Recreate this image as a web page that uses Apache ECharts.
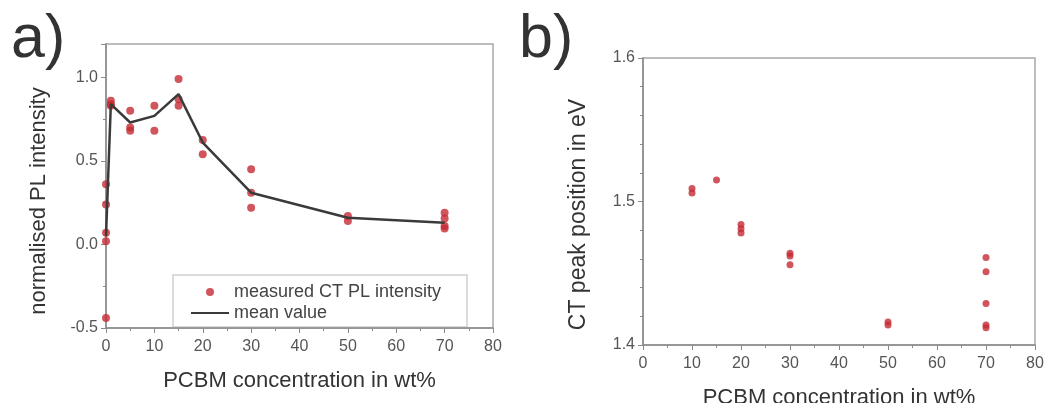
<!DOCTYPE html>
<html>
<head>
<meta charset="utf-8">
<script src="https://cdn.jsdelivr.net/npm/echarts@6/dist/echarts.min.js"></script>
<style>
  html, body { margin: 0; padding: 0; background: #fff; }
  #chart { width: 1046px; height: 403px; }
</style>
</head>
<body>
<div id="chart"></div>
<script>
// a) CT photoluminescence intensity versus PCBM content
const plConc   = [0, 0, 0, 0, 0, 1, 1, 1, 5, 5, 5, 10, 10, 15, 15, 15, 20, 20, 30, 30, 30, 50, 50, 70, 70, 70, 70];
const plValues = [0.36, 0.24, 0.07, 0.02, -0.44, 0.86, 0.84, 0.83, 0.80, 0.70, 0.68, 0.83, 0.68, 0.99, 0.87, 0.83, 0.625, 0.54, 0.45, 0.31, 0.22, 0.17, 0.14, 0.19, 0.155, 0.11, 0.095];
const meanConc   = [0, 1, 5, 10, 15, 20, 30, 50, 70];
const meanValues = [0.05, 0.84, 0.73, 0.77, 0.90, 0.61, 0.31, 0.16, 0.13];

// b) CT peak position versus PCBM content
const ctConc   = [10, 10, 15, 20, 20, 20, 30, 30, 30, 50, 50, 70, 70, 70, 70, 70];
const ctValues = [1.509, 1.506, 1.515, 1.484, 1.481, 1.478, 1.464, 1.462, 1.456, 1.416, 1.414, 1.461, 1.451, 1.429, 1.414, 1.412];

const xTitle = 'PCBM concentration in wt%';
const yTitleA = 'normalised PL intensity';
const yTitleB = 'CT peak position in eV';
const legendDots = 'measured CT PL intensity';
const legendMean = 'mean value';

const FONT = 'Liberation Sans, Arial, sans-serif';
const RED = '#c62b33';
const AXIS = '#8a8a8a';
const LABEL = '#555';
const TITLE = '#333';

const pairs = (xs, ys) => xs.map((x, i) => [x, ys[i]]);

function xAxis(gridIndex) {
  return {
    type: 'value', gridIndex, min: 0, max: 80, interval: 10,
    name: xTitle, nameLocation: 'middle', nameGap: 42,
    nameTextStyle: { fontFamily: FONT, fontSize: 22, color: TITLE },
    axisLine: { show: true, onZero: false, lineStyle: { color: AXIS, width: 1.5 } },
    axisTick: { show: true, length: 5, lineStyle: { color: AXIS } },
    minorTick: { show: true, splitNumber: 2, length: 3, lineStyle: { color: AXIS } },
    axisLabel: { fontFamily: FONT, fontSize: 16, color: LABEL, margin: 11 },
    splitLine: { show: false }
  };
}

const chart = echarts.init(document.getElementById('chart'), null, { renderer: 'canvas' });

chart.setOption({
  animation: false,
  backgroundColor: '#fff',
  grid: [
    { left: 106, top: 44, width: 387, height: 284, outerBoundsMode: 'none', containLabel: false,
      show: true, borderColor: '#a8a8a8', borderWidth: 1.5, backgroundColor: 'transparent' },
    { left: 643, top: 58, width: 392, height: 287, outerBoundsMode: 'none', containLabel: false,
      show: true, borderColor: '#a8a8a8', borderWidth: 1.5, backgroundColor: 'transparent' }
  ],
  xAxis: [xAxis(0), xAxis(1)],
  yAxis: [
    {
      type: 'value', gridIndex: 0, min: -0.5, max: 1.2, interval: 0.5,
      name: yTitleA, nameLocation: 'middle', nameGap: 56,
      nameTextStyle: { fontFamily: FONT, fontSize: 22, color: TITLE, padding: [0, 30, 0, 0] },
      axisLine: { show: true, onZero: false, lineStyle: { color: AXIS, width: 1.5 } },
      axisTick: { show: true, length: 5, lineStyle: { color: AXIS } },
      minorTick: { show: true, splitNumber: 2, length: 3, lineStyle: { color: AXIS } },
      axisLabel: { fontFamily: FONT, fontSize: 16, color: LABEL, margin: 8, showMaxLabel: false,
                   formatter: v => v.toFixed(1) },
      splitLine: { show: false }
    },
    {
      type: 'value', gridIndex: 1, min: 1.4, max: 1.6, interval: 0.1,
      name: yTitleB, nameLocation: 'middle', nameGap: 53,
      nameTextStyle: { fontFamily: FONT, fontSize: 23, color: TITLE, padding: [0, 26, 0, 0] },
      axisLine: { show: true, onZero: false, lineStyle: { color: AXIS, width: 1.5 } },
      axisTick: { show: true, length: 5, lineStyle: { color: AXIS } },
      minorTick: { show: true, splitNumber: 5, length: 3, lineStyle: { color: AXIS } },
      axisLabel: { fontFamily: FONT, fontSize: 16, color: LABEL, margin: 8,
                   formatter: v => v.toFixed(1) },
      splitLine: { show: false }
    }
  ],
  legend: {
    orient: 'vertical', left: 190, top: 283, padding: 0, itemGap: 3,
    itemWidth: 38, itemHeight: 8,
    textStyle: { fontFamily: FONT, fontSize: 18, color: '#444' },
    data: [legendDots, { name: legendMean, itemStyle: { opacity: 0 } }]
  },
  graphic: [
    { type: 'rect', shape: { x: 173, y: 275, width: 294, height: 52 },
      style: { fill: '#fff', stroke: '#cfcfcf', lineWidth: 1.5 }, z: 0 },
    { type: 'text', x: 11, y: 10, style: { text: 'a)', font: '61px ' + FONT, fill: TITLE } },
    { type: 'text', x: 519, y: 10, style: { text: 'b)', font: '61px ' + FONT, fill: TITLE } }
  ],
  series: [
    {
      name: legendDots, type: 'scatter', xAxisIndex: 0, yAxisIndex: 0,
      data: pairs(plConc, plValues), symbol: 'circle', symbolSize: 8,
      itemStyle: { color: RED }, z: 3
    },
    {
      name: legendMean, type: 'line', xAxisIndex: 0, yAxisIndex: 0,
      data: pairs(meanConc, meanValues), symbol: 'none', showSymbol: false,
      lineStyle: { color: '#3a3a3a', width: 2.5 }, itemStyle: { color: '#3a3a3a' }, z: 4
    },
    {
      name: 'CT peak position', type: 'scatter', xAxisIndex: 1, yAxisIndex: 1,
      data: pairs(ctConc, ctValues), symbol: 'circle', symbolSize: 7,
      itemStyle: { color: RED }, z: 3
    }
  ]
});
</script>
</body>
</html>
